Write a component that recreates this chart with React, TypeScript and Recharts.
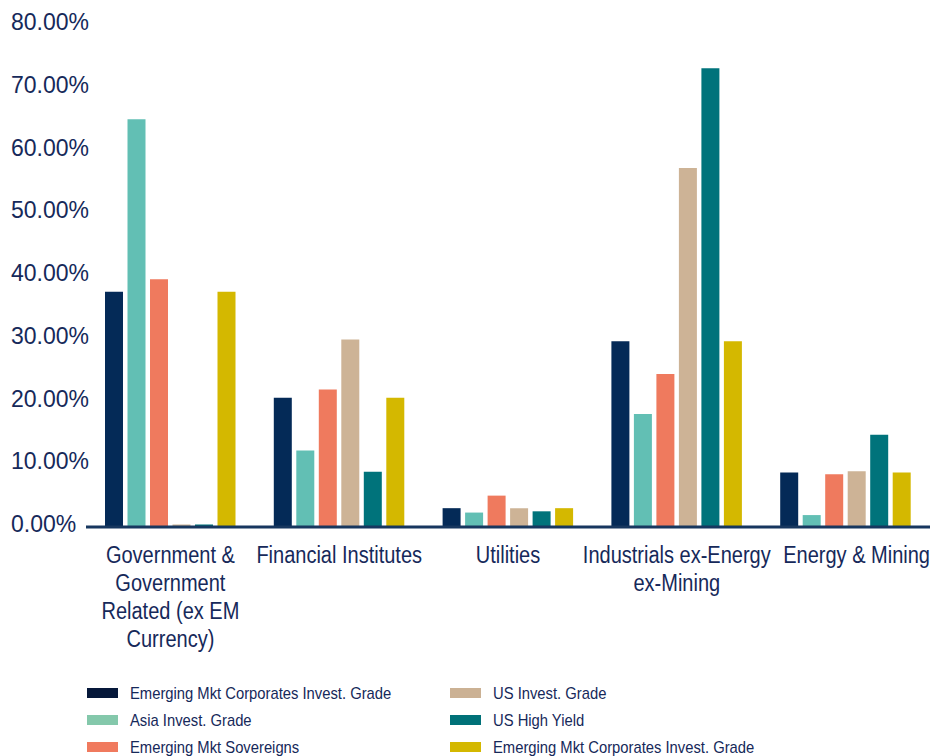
import React from "react";
import { BarChart, Bar, XAxis, YAxis, Legend } from "recharts";

const categories = [
  "Government &\nGovernment\nRelated (ex EM\nCurrency)",
  "Financial Institutes",
  "Utilities",
  "Industrials ex-Energy\nex-Mining",
  "Energy & Mining",
];
const emCorpIG = [37.5, 20.6, 3.0, 29.6, 8.7];
const asiaIG = [65.0, 12.2, 2.3, 18.0, 1.9];
const emSov = [39.5, 21.9, 5.0, 24.4, 8.4];
const usIG = [0.4, 29.9, 3.0, 57.2, 8.9];
const usHY = [0.4, 8.8, 2.5, 73.1, 14.7];
const emCorpIG2 = [37.5, 20.6, 3.0, 29.6, 8.7];
const yTicks = [0, 10, 20, 30, 40, 50, 60, 70, 80];

const seriesNames = [
  "Emerging Mkt Corporates Invest. Grade",
  "Asia Invest. Grade",
  "Emerging Mkt Sovereigns",
  "US Invest. Grade",
  "US High Yield",
  "Emerging Mkt Corporates Invest. Grade",
];
const seriesValues = [emCorpIG, asiaIG, emSov, usIG, usHY, emCorpIG2];
const barColors = ["#042a57", "#62bfb4", "#ef7a5e", "#cdb396", "#00737b", "#d4b800"];
const legendColors = ["#06183a", "#84c8ab", "#f07a5e", "#cbb194", "#007178", "#d4b800"];

const data = categories.map((c, i) => {
  const row: Record<string, string | number> = { name: c };
  seriesValues.forEach((s, k) => {
    row["s" + k] = s[i];
  });
  return row;
});

const TEXT = "#16295a";
const FONT = "'Liberation Sans', Arial, sans-serif";
const CHART_W = 930;

const XTick = (props: any) => {
  const { x, y, payload, index } = props;
  const lines = String(payload.value).split("\n");
  const isLast = index === categories.length - 1;
  const tx = isLast ? CHART_W : x;
  return (
    <g transform={`translate(${tx},${y})`}>
      <text
        transform="scale(0.87,1)"
        textAnchor={isLast ? "end" : "middle"}
        fill={TEXT}
        fontSize={23}
        fontFamily={FONT}
      >
        {lines.map((l, i) => (
          <tspan key={i} x={0} y={36 + i * 28}>
            {l}
          </tspan>
        ))}
      </text>
    </g>
  );
};

const YTick = (props: any) => {
  const { y, payload } = props;
  return (
    <text x={11} y={y + 5} fill={TEXT} fontSize={23} fontFamily={FONT} textAnchor="start">
      {`${Number(payload.value).toFixed(2)}%`}
    </text>
  );
};

const LegendContent = () => {
  const order = [0, 3, 1, 4, 2, 5];
  return (
    <svg width={930} height={90}>
      {order.map((k, idx) => {
        const col = idx % 2;
        const row = Math.floor(idx / 2);
        const sx = col === 0 ? 87 : 450;
        const cy = 18 + row * 27;
        return (
          <g key={idx}>
            <rect x={sx} y={cy - 5} width={31} height={10} fill={legendColors[k]} />
            <g transform={`translate(${sx + 43},${cy + 6})`}>
              <text transform="scale(0.87,1)" fill={TEXT} fontSize={17} fontFamily={FONT}>
                {seriesNames[k]}
              </text>
            </g>
          </g>
        );
      })}
    </svg>
  );
};

export default function App() {
  return (
    <div style={{ position: "absolute", left: 0, top: 0, width: 930, height: 756, overflow: "hidden", background: "#fff" }}>
      <BarChart
        width={CHART_W}
        height={756}
        data={data}
        margin={{ top: 25, right: 0, left: 0, bottom: 0 }}
        barSize={18}
        barGap={4.5}
      >
        <XAxis
          dataKey="name"
          interval={0}
          height={229}
          tickLine={false}
          tickSize={0}
          tickMargin={0}
          axisLine={{ stroke: "#17375f", strokeWidth: 3 }}
          tick={<XTick />}
        />
        <YAxis
          width={86}
          domain={[0, 80]}
          ticks={yTicks}
          axisLine={false}
          tickLine={false}
          tick={<YTick />}
          interval={0}
        />
        <Legend
          layout="vertical"
          verticalAlign="middle"
          align="center"
          content={<LegendContent />}
          wrapperStyle={{ position: "absolute", left: 0, top: 675, width: 930, height: 90 }}
        />
        {seriesValues.map((_, k) => (
          <Bar key={k} dataKey={"s" + k} name={seriesNames[k]} fill={barColors[k]} isAnimationActive={false} />
        ))}
      </BarChart>
    </div>
  );
}
